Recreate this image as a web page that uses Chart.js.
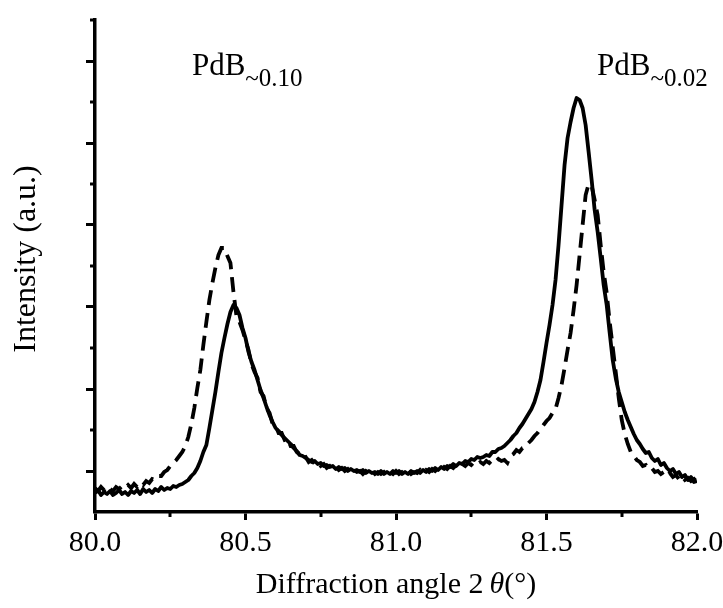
<!DOCTYPE html>
<html><head><meta charset="utf-8">
<script src="https://cdn.jsdelivr.net/npm/chart.js@4"></script>
<style>html,body{margin:0;padding:0;background:#fff}canvas{display:block}</style>
</head><body>
<canvas id="c" width="723" height="608"></canvas>
<script>
const X_VALUES = [
80.00,80.01,80.02,80.03,80.04,80.05,80.06,80.07,80.08,80.09,
80.10,80.11,80.12,80.13,80.14,80.15,80.16,80.17,80.18,80.19,
80.20,80.21,80.22,80.23,80.24,80.25,80.26,80.27,80.28,80.29,
80.30,80.31,80.32,80.33,80.34,80.35,80.36,80.37,80.38,80.39,
80.40,80.41,80.42,80.43,80.44,80.45,80.46,80.47,80.48,80.49,
80.50,80.51,80.52,80.53,80.54,80.55,80.56,80.57,80.58,80.59,
80.60,80.61,80.62,80.63,80.64,80.65,80.66,80.67,80.68,80.69,
80.70,80.71,80.72,80.73,80.74,80.75,80.76,80.77,80.78,80.79,
80.80,80.81,80.82,80.83,80.84,80.85,80.86,80.87,80.88,80.89,
80.90,80.91,80.92,80.93,80.94,80.95,80.96,80.97,80.98,80.99,
81.00,81.01,81.02,81.03,81.04,81.05,81.06,81.07,81.08,81.09,
81.10,81.11,81.12,81.13,81.14,81.15,81.16,81.17,81.18,81.19,
81.20,81.21,81.22,81.23,81.24,81.25,81.26,81.27,81.28,81.29,
81.30,81.31,81.32,81.33,81.34,81.35,81.36,81.37,81.38,81.39,
81.40,81.41,81.42,81.43,81.44,81.45,81.46,81.47,81.48,81.49,
81.50,81.51,81.52,81.53,81.54,81.55,81.56,81.57,81.58,81.59,
81.60,81.61,81.62,81.63,81.64,81.65,81.66,81.67,81.68,81.69,
81.70,81.71,81.72,81.73,81.74,81.75,81.76,81.77,81.78,81.79,
81.80,81.81,81.82,81.83,81.84,81.85,81.86,81.87,81.88,81.89,
81.90,81.91,81.92,81.93,81.94,81.95,81.96,81.97,81.98,81.99,
82.00];

// solid curve intensity (a.u.)
const SOLID = [
19,22,17,20,18,21,17,19,22,18,
20,17,21,19,22,18,23,20,22,19,
23,21,25,22,24,23,26,25,27,28,
30,32,36,39,44,51,60,67,84,102,
120,140,159,174,188,200,207,204,197,184,
174,160,150,142,132,122,114,105,97,90,
84,81,77,74,71,68,64,61,57,56,
54,52,50,51,48,49,46,47,45,46,
43,45,43,44,41,43,41,42,40,42,
39,41,39,40,38,41,38,40,38,41,
39,41,38,40,38,41,39,41,39,42,
40,43,41,44,42,45,43,46,45,48,
46,49,48,51,50,53,52,55,54,55,
57,56,60,60,63,64,66,69,72,76,
79,84,88,93,98,103,110,120,132,150,
169,187,207,232,267,307,347,374,390,404,
414,412,404,387,360,332,302,280,254,227,
207,179,152,134,120,110,100,92,85,78,
72,68,63,59,60,54,51,53,47,49,
44,41,43,38,40,35,37,32,35,30,
31];

// dashed curve intensity (a.u.)
const DASHED = [
24,21,25,22,26,23,21,25,23,26,
24,27,24,28,25,29,27,31,29,33,
32,36,36,40,42,46,49,52,56,60,
66,75,88,104,124,142,167,190,212,229,
244,257,264,264,256,249,220,196,190,182,
172,162,148,140,134,120,116,104,99,88,
86,79,79,72,73,66,66,60,58,54,
55,50,52,48,50,46,48,44,46,43,
45,42,44,41,43,40,42,40,41,38,
41,39,41,38,40,38,40,37,40,38,
41,38,40,38,41,38,40,39,42,39,
42,40,43,41,44,42,45,43,46,44,
47,45,48,46,49,47,50,48,50,48,
51,49,52,50,53,51,52,49,56,58,
62,60,64,65,69,72,76,79,83,87,
91,94,99,103,114,127,144,162,179,202,
227,257,287,317,328,326,312,297,267,240,
219,190,165,140,114,92,78,68,60,56,
52,50,46,47,43,44,40,41,38,40,
36,39,35,37,33,36,32,34,31,33,
30];

const X_TICKS = [80.0, 80.5, 81.0, 81.5, 82.0];
const X_TICK_LABELS = ['80.0', '80.5', '81.0', '81.5', '82.0'];
const X_MINOR = [80.25, 80.75, 81.25, 81.75];
const Y_MAJOR = [41, 123, 205, 287, 369, 451];
const Y_MINOR = [82, 164, 246, 328, 410, 492];
const PEAK_NAMES = ['PdB', 'PdB'];
const PEAK_SUBS = ['~0.10', '~0.02'];

const FONT = "'Liberation Serif', 'Times New Roman', serif";
Chart.defaults.font.family = FONT;
Chart.defaults.color = '#000';

const deco = {
  id: 'deco',
  afterDraw(chart) {
    const ctx = chart.ctx, xs = chart.scales.x, ys = chart.scales.y;
    const ca = chart.chartArea;
    ctx.save();
    ctx.strokeStyle = '#000';
    ctx.lineWidth = 3;
    X_MINOR.forEach(v => {
      const px = Math.round(xs.getPixelForValue(v));
      ctx.beginPath(); ctx.moveTo(px, ca.bottom); ctx.lineTo(px, ca.bottom + 5); ctx.stroke();
    });
    Y_MINOR.forEach(v => {
      const py = Math.round(ys.getPixelForValue(v));
      ctx.beginPath(); ctx.moveTo(ca.left, py); ctx.lineTo(ca.left - 5, py); ctx.stroke();
    });
    ctx.fillStyle = '#000';
    // x title with italic theta
    const pieces = [
      {t: 'Diffraction angle 2', f: '30px ' + FONT},
      {t: '\u2009', f: '30px ' + FONT},
      {t: '\u03B8', f: 'italic 30px ' + FONT},
      {t: '(\u00B0)', f: '30px ' + FONT}
    ];
    let total = 0;
    pieces.forEach(p => { ctx.font = p.f; p.w = ctx.measureText(p.t).width; total += p.w; });
    let x = (ca.left + ca.right) / 2 - total / 2;
    ctx.textBaseline = 'alphabetic';
    ctx.textAlign = 'left';
    pieces.forEach(p => { ctx.font = p.f; ctx.fillText(p.t, x, 593); x += p.w; });
    // y title
    ctx.save();
    ctx.translate(27, 259);
    ctx.rotate(-Math.PI / 2);
    ctx.font = '32px ' + FONT;
    ctx.textAlign = 'center';
    ctx.textBaseline = 'middle';
    ctx.fillText('Intensity (a.u.)', 0, 0);
    ctx.restore();
    // peak labels
    const anchors = [{x: 80.322, y: 437}, {x: 81.668, y: 437}];
    anchors.forEach((a, i) => {
      const px = xs.getPixelForValue(a.x), py = ys.getPixelForValue(a.y);
      ctx.font = '31px ' + FONT;
      ctx.fillText(PEAK_NAMES[i], px, py);
      const w = ctx.measureText(PEAK_NAMES[i]).width;
      ctx.font = '25px ' + FONT;
      ctx.fillText(PEAK_SUBS[i], px + w, py + 11);
    });
    ctx.restore();
  }
};

new Chart(document.getElementById('c'), {
  type: 'line',
  data: {
    datasets: [
      {data: X_VALUES.map((x, i) => ({x, y: SOLID[i]})), borderColor: '#000', borderWidth: 3.8, pointRadius: 0, tension: 0, borderJoinStyle: 'round', fill: false},
      {data: X_VALUES.map((x, i) => ({x, y: DASHED[i]})), borderColor: '#000', borderWidth: 3.8, pointRadius: 0, tension: 0, borderDash: [15, 8], fill: false}
    ]
  },
  options: {
    responsive: false,
    animation: false,
    devicePixelRatio: 1,
    layout: {padding: {top: 20, left: 0, right: 0, bottom: 0}},
    plugins: {legend: {display: false}, tooltip: {enabled: false}},
    scales: {
      x: {
        type: 'linear', min: 80, max: 82,
        afterBuildTicks: s => { s.ticks = X_TICKS.map(v => ({value: v})); },
        afterFit: s => { s.height = 96; s.paddingRight = 26; s.paddingLeft = 0; },
        ticks: {callback: (v, i) => X_TICK_LABELS[i], font: {size: 30}, color: '#000', maxRotation: 0, autoSkip: false, padding: 5},
        grid: {drawOnChartArea: false, drawTicks: true, tickLength: 8, tickWidth: 3, tickColor: '#000'},
        border: {display: true, width: 3.5, color: '#000'}
      },
      y: {
        type: 'linear', min: 0, max: 492,
        afterBuildTicks: s => { s.ticks = Y_MAJOR.map(v => ({value: v})); },
        afterFit: s => { s.width = 95; },
        ticks: {display: false},
        grid: {drawOnChartArea: false, drawTicks: true, tickLength: 9, tickWidth: 3, tickColor: '#000'},
        border: {display: true, width: 3.5, color: '#000'}
      }
    }
  },
  plugins: [deco]
});
</script>
</body></html>
